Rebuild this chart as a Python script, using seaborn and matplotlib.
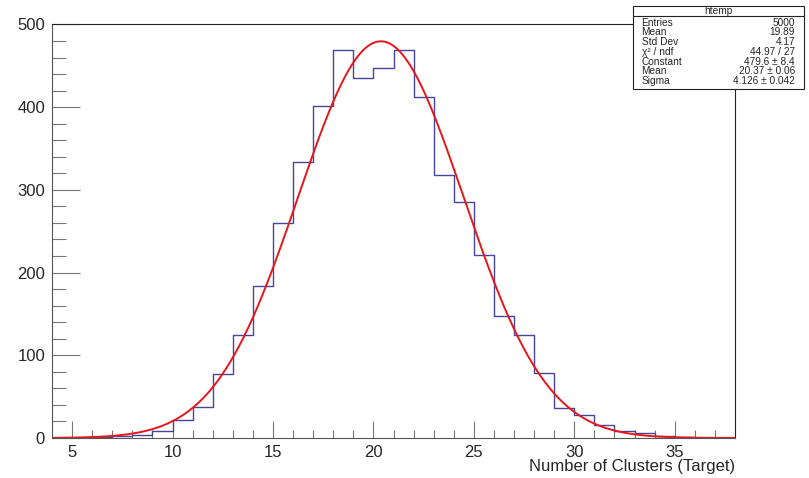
import numpy as np
import matplotlib
matplotlib.use("Agg")
import matplotlib.pyplot as plt
from matplotlib.patches import Rectangle
import seaborn as sns

# ---- data ----
cluster_values = list(range(4, 38))
counts = [0, 0, 1, 2, 4, 8, 22, 38, 77, 125, 184, 260, 334, 401, 469, 435,
          447, 469, 412, 318, 285, 221, 148, 125, 79, 36, 28, 16, 9, 6, 3, 1,
          0, 0]
bin_edges = list(range(4, 39))
x_ticks = [5, 10, 15, 20, 25, 30, 35]
y_ticks = [0, 100, 200, 300, 400, 500]

# Gaussian fit parameters (from the stats box)
fit_constant = 479.6
fit_mean = 20.37
fit_sigma = 4.126

stats_labels = ["Entries", "Mean", "Std Dev", "\u03c7\u00b2 / ndf", "Constant", "Mean", "Sigma"]
stats_values = ["5000", "19.89", "4.17", "44.97 / 27", "479.6 \u00b1 8.4",
                "20.37 \u00b1 0.06", "4.126 \u00b1 0.042"]
stats_title = "htemp"
x_label = "Number of Clusters (Target)"

# ---- style ----
sns.set_style("white")
plt.rcParams["font.family"] = ["Liberation Sans", "DejaVu Sans"]

W, H = 809, 478
fig = plt.figure(figsize=(W / 100, H / 100), dpi=100)
ax = fig.add_axes([52 / W, (H - 438) / H, (735 - 52) / W, (438 - 24) / H])

sns.histplot(x=cluster_values, weights=counts, bins=bin_edges, element="step",
             fill=False, color="#45459c", linewidth=1.0, ax=ax)

x_fit = np.linspace(bin_edges[0], bin_edges[-1], 600)
y_fit = fit_constant * np.exp(-0.5 * ((x_fit - fit_mean) / fit_sigma) ** 2)
sns.lineplot(x=x_fit, y=y_fit, color="#e8161b", linewidth=1.4, ax=ax)

ax.set_xlim(bin_edges[0], bin_edges[-1])
ax.set_ylim(0, 500.5)
ax.set_xticks(x_ticks)
ax.set_yticks(y_ticks)
ax.set_xticks(range(5, 38), minor=True)
ax.set_yticks(range(0, 501, 20), minor=True)
ax.tick_params(bottom=True, left=True, top=False, right=False, which="both")
ax.tick_params(axis="x", which="major", direction="in", length=12, width=0.8,
               color="#777777", labelsize=12, pad=5)
ax.tick_params(axis="x", which="minor", direction="in", length=6, width=0.8,
               color="#777777")
ax.tick_params(axis="y", which="major", direction="in", length=20, width=0.8,
               color="#777777", labelsize=12, pad=5)
ax.tick_params(axis="y", which="minor", direction="in", length=10, width=0.8,
               color="#777777")
ax.set_xlabel("")
ax.set_ylabel("")
for side, sp in ax.spines.items():
    sp.set_visible(True)
    sp.set_linewidth(0.8)
    sp.set_color("#555555" if side in ("left", "bottom") else "#222222")

fig.text(735 / W, 1 - 466 / H, x_label, ha="right", va="center", fontsize=12)

# ---- stats box ----
bx0, bx1, by0, by1 = 633, 804, 6, 89
fig.patches.append(Rectangle((bx0 / W, 1 - by1 / H), (bx1 - bx0) / W, (by1 - by0) / H,
                             transform=fig.transFigure, facecolor="white",
                             edgecolor="#222222", linewidth=0.8, zorder=5))
fig.add_artist(plt.Line2D([bx0 / W, bx1 / W], [1 - 15.5 / H, 1 - 15.5 / H],
                          transform=fig.transFigure, color="#222222", linewidth=0.8,
                          zorder=6))
fig.text((bx0 + bx1) / 2 / W, 1 - 11 / H, stats_title, ha="center", va="center",
         fontsize=7.3, zorder=7)
row_y = [22.7, 32.3, 42.0, 51.7, 61.7, 71.4, 81.0]
for lab, val, yy in zip(stats_labels, stats_values, row_y):
    fig.text(641.5 / W, 1 - yy / H, lab, ha="left", va="center", fontsize=7.3, zorder=7)
    fig.text(795 / W, 1 - yy / H, val, ha="right", va="center", fontsize=7.3, zorder=7)

fig.savefig("out.png", dpi=100)
